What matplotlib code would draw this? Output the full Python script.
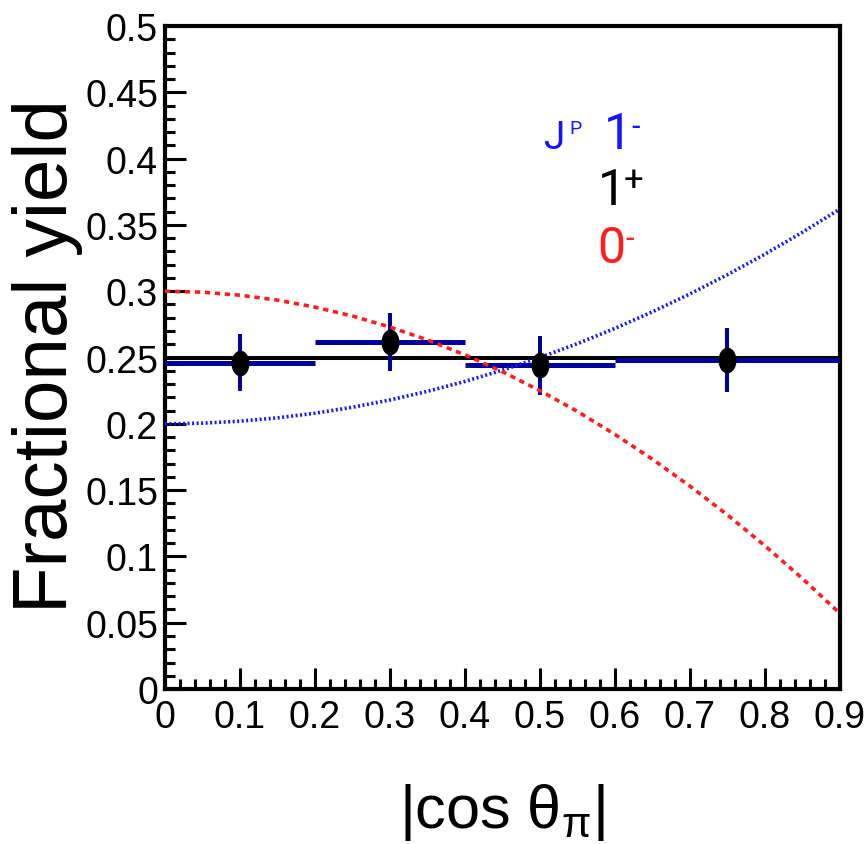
import matplotlib
matplotlib.use("Agg")
import matplotlib.pyplot as plt
from matplotlib import font_manager
from matplotlib.path import Path
from matplotlib.ticker import MultipleLocator
import numpy as np

# measured fractional yields per |cos theta_pi| bin
bin_centres = [0.1, 0.3, 0.5, 0.75]
bin_halfwidths = [0.1, 0.1, 0.1, 0.15]
yields = [0.246, 0.2615, 0.244, 0.248]
yield_errs = [0.0215, 0.022, 0.0226, 0.024]

# J^P hypotheses
curve_x = [0.0, 0.05, 0.1, 0.15, 0.2, 0.25, 0.3, 0.35, 0.4, 0.45,
           0.5, 0.55, 0.6, 0.65, 0.7, 0.75, 0.8, 0.85, 0.9]
curve_1minus = [0.2, 0.2005, 0.202, 0.2045, 0.208, 0.2125, 0.218, 0.2245, 0.232, 0.2405,
                0.25, 0.2605, 0.272, 0.2845, 0.298, 0.3125, 0.328, 0.3445, 0.362]
curve_0minus = [0.3, 0.2993, 0.297, 0.2933, 0.288, 0.2813, 0.273, 0.2633, 0.252, 0.2393,
                0.225, 0.2093, 0.192, 0.1733, 0.153, 0.1313, 0.108, 0.0833, 0.057]
flat_x = [0.0, 0.9]
flat_1plus = [0.25, 0.25]

NAVY = "#00009c"
BLUE = "#1414ff"
RED = "#ff1e1e"


def have_font(name):
    try:
        font_manager.findfont(name, fallback_to_default=False)
        return True
    except Exception:
        return False


NARROW = "Liberation Sans Narrow" if have_font("Liberation Sans Narrow") else "Liberation Sans"
tick_size = 30 if NARROW.endswith("Narrow") else 27
xlab_size = 54 if NARROW.endswith("Narrow") else 44

fig = plt.figure(figsize=(8.68, 8.45), dpi=100)
ax = fig.add_axes([0.1901, 0.1834, 0.9677 - 0.1901, 0.968 - 0.1834])

ax.plot(flat_x, flat_1plus, color="black", lw=2.9, zorder=2, solid_capstyle="butt")
ax.errorbar(bin_centres, yields, xerr=bin_halfwidths, fmt="none",
            ecolor=NAVY, elinewidth=3.6, capsize=0, zorder=3)
ax.errorbar(bin_centres, yields, yerr=yield_errs, fmt="none",
            ecolor=NAVY, elinewidth=2.9, capsize=0, zorder=3)
ax.plot(curve_x, curve_1minus, color=BLUE, lw=2.6, ls=(0, (0.55, 0.7)),
        dash_capstyle="butt", zorder=4)
ax.plot(curve_x, curve_0minus, color=RED, lw=2.6, ls=(0, (1.46, 1.3)),
        dash_capstyle="butt", zorder=4)

circ = Path.unit_circle()
ellipse = Path(circ.vertices * np.array([0.7, 1.0]), circ.codes)
ax.plot(bin_centres, yields, ls="none", marker=ellipse, ms=18.5,
        color="black", mec="none", zorder=5)

ax.set_xlim(0, 0.9)
ax.set_ylim(0, 0.5)
ax.xaxis.set_minor_locator(MultipleLocator(0.02))
ax.yaxis.set_minor_locator(MultipleLocator(0.01))
ax.set_xticks(np.round(np.arange(0, 0.91, 0.1), 2))
ax.set_xticklabels(["0", "0.1", "0.2", "0.3", "0.4", "0.5", "0.6", "0.7", "0.8", "0.9"])
ax.set_yticks(np.round(np.arange(0, 0.51, 0.05), 2))
ax.set_yticklabels(["0", "0.05", "0.1", "0.15", "0.2", "0.25", "0.3", "0.35",
                    "0.4", "0.45", "0.5"])
ax.tick_params(which="both", direction="in", top=False, right=False, width=2.2)
ax.tick_params(which="major", length=15)
ax.tick_params(which="minor", length=7.5)
ax.tick_params(axis="y", which="major", pad=5)
ax.tick_params(axis="x", which="major", pad=7)
for lab in ax.get_xticklabels() + ax.get_yticklabels():
    lab.set_fontfamily(NARROW)
    lab.set_fontsize(tick_size)
for sp in ax.spines.values():
    sp.set_linewidth(3.0)

fig.text(0.055, 0.579, "Fractional yield", rotation=90, ha="center", va="center",
         fontsize=55, family="Liberation Sans")
fig.text(0.578, 0.0201, r"|cos $\mathregular{\theta_{\pi}}$|", ha="center",
         va="baseline", fontsize=xlab_size, family=[NARROW, "DejaVu Sans"])

# J^P legend as coloured text
W, H = 868.0, 845.0
leg_font = "Roboto"


def put(px, py, s, size, color, va="baseline"):
    fig.text(px / W, 1 - py / H, s, fontsize=size, color=color, ha="left",
             va=va, family=leg_font)


put(544, 149, "J", 28, BLUE)
put(569, 134, "P", 14, BLUE)
put(604, 149, "1", 36, BLUE)
put(631, 127, "-", 22, BLUE, va="center")
put(598, 205, "1", 36, "black")
put(624, 181, "+", 25, "black", va="center")
put(597, 263, "0", 36, RED)
put(625, 240, "-", 22, RED, va="center")

fig.savefig("out.png", dpi=100)
